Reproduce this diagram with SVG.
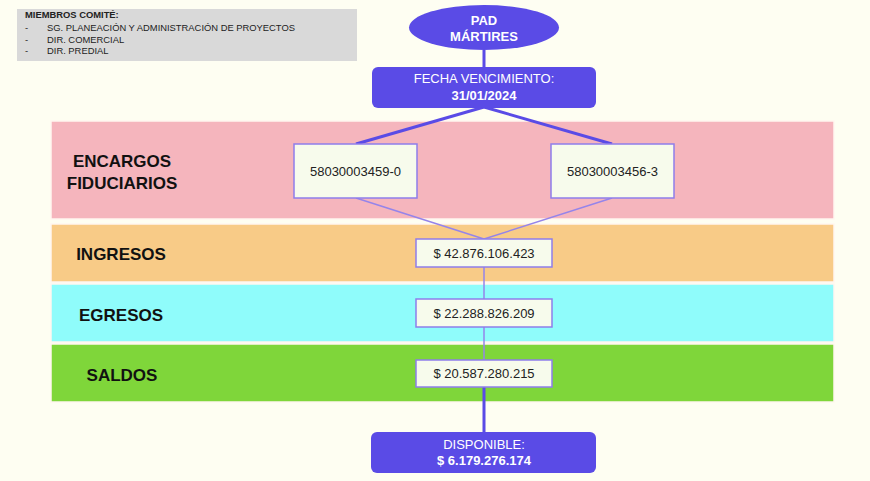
<svg xmlns="http://www.w3.org/2000/svg" width="870" height="481" viewBox="0 0 870 481">
<style>
.bg{fill:#FEFEF2}
.band{stroke:#FFF6F0;stroke-width:1.5}
.lbl{font-family:"Liberation Sans",Arial,sans-serif;font-size:17px;font-weight:bold;fill:#111;text-anchor:middle}
.blue{fill:#5A4BE6}
.wt{font-family:"Liberation Sans",Arial,sans-serif;font-size:13px;fill:#fff;text-anchor:middle}
.b{font-weight:bold}
.box{fill:#F7FBEC;stroke:#8E7EEA;stroke-width:1.5}
.val{font-family:"Liberation Sans",Arial,sans-serif;font-size:13px;fill:#222;text-anchor:middle}
.thick{stroke:#5A4BE6;stroke-width:3;fill:none}
.thin{stroke:#9584EA;stroke-width:1.5;fill:none}
.leg{font-family:"Liberation Sans",Arial,sans-serif;font-size:9.4px;fill:#222}
</style>
<rect class="bg" x="0" y="0" width="870" height="481"/>
<g id="legend">
<rect x="17" y="9" width="340" height="52" fill="#D9D9D9"/>
<text class="leg" x="25" y="18" font-weight="bold" font-size="9px">MIEMBROS COMITÉ:</text>
<text class="leg" x="25" y="31">-</text>
<text class="leg" x="47" y="31">SG. PLANEACIÓN Y ADMINISTRACIÓN DE PROYECTOS</text>
<text class="leg" x="25" y="43">-</text>
<text class="leg" x="47" y="43">DIR. COMERCIAL</text>
<text class="leg" x="25" y="54">-</text>
<text class="leg" x="47" y="54">DIR. PREDIAL</text>
</g>
<g id="band-encargos">
<rect class="band" x="51" y="121" width="783" height="98" fill="#F5B5BD"/>
<text class="lbl" x="122" y="167">ENCARGOS</text>
<text class="lbl" x="122" y="189">FIDUCIARIOS</text>
</g>
<g id="band-ingresos">
<rect class="band" x="51" y="224" width="783" height="58" fill="#F8CB87"/>
<text class="lbl" x="121" y="260">INGRESOS</text>
</g>
<g id="band-egresos">
<rect class="band" x="51" y="284" width="783" height="58" fill="#8FFCFB"/>
<text class="lbl" x="121" y="321">EGRESOS</text>
</g>
<g id="band-saldos">
<rect class="band" x="51" y="344" width="783" height="58" fill="#7FD63A"/>
<text class="lbl" x="122" y="381">SALDOS</text>
</g>
<g id="connectors">
<line class="thick" x1="484" y1="50" x2="484" y2="67"/>
<line class="thick" x1="484" y1="107" x2="356" y2="144"/>
<line class="thick" x1="484" y1="107" x2="612" y2="144"/>
<line class="thin" x1="356" y1="198" x2="484" y2="239"/>
<line class="thin" x1="612" y1="198" x2="484" y2="239"/>
<line class="thin" x1="484" y1="267" x2="484" y2="299"/>
<line class="thin" x1="484" y1="327" x2="484" y2="360"/>
<line class="thick" x1="484" y1="387" x2="484" y2="432"/>
</g>
<g id="pad">
<ellipse class="blue" cx="484" cy="27.5" rx="75" ry="22.5"/>
<text class="wt b" x="484" y="25">PAD</text>
<text class="wt b" x="484" y="41">MÁRTIRES</text>
</g>
<g id="fecha">
<rect class="blue" x="372" y="67" width="224" height="41" rx="6"/>
<text class="wt" x="484" y="83">FECHA VENCIMIENTO:</text>
<text class="wt b" x="484" y="100">31/01/2024</text>
</g>
<g id="encargo1">
<rect class="box" x="294" y="144" width="123" height="54"/>
<text class="val" x="355.5" y="176">58030003459-0</text>
</g>
<g id="encargo2">
<rect class="box" x="551" y="144" width="123" height="54"/>
<text class="val" x="612.5" y="176">58030003456-3</text>
</g>
<g id="ingresos">
<rect class="box" x="416" y="239" width="136" height="28"/>
<text class="val" x="484" y="258">$ 42.876.106.423</text>
</g>
<g id="egresos">
<rect class="box" x="416" y="299" width="136" height="28"/>
<text class="val" x="484" y="318">$ 22.288.826.209</text>
</g>
<g id="saldos">
<rect class="box" x="416" y="360" width="136" height="27"/>
<text class="val" x="484" y="378">$ 20.587.280.215</text>
</g>
<g id="disponible">
<rect class="blue" x="371" y="432" width="225" height="41" rx="6"/>
<text class="wt" x="484" y="449">DISPONIBLE:</text>
<text class="wt b" x="484" y="465">$ 6.179.276.174</text>
</g>
</svg>
